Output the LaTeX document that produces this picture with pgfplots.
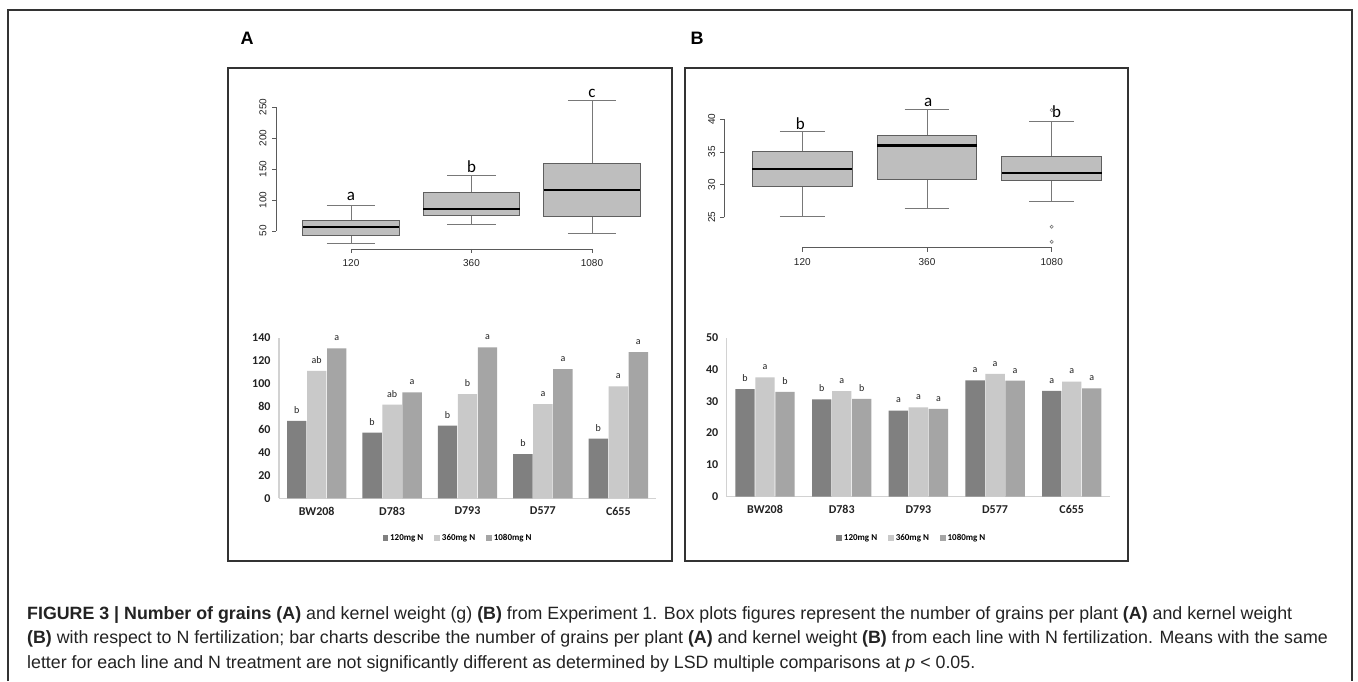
\documentclass[border=0pt]{standalone}
\usepackage{fontspec}
\setmainfont{Liberation Sans}
\newfontfamily\calib{Carlito}
\usepackage{pgfplots}
\usepackage{pgfplotstable}
\pgfplotsset{compat=1.18}
\usepgfplotslibrary{statistics}

\definecolor{bdark}{RGB}{128,128,128}
\definecolor{blight}{RGB}{201,201,201}
\definecolor{bmid}{RGB}{165,165,165}
\definecolor{boxfill}{RGB}{190,190,190}
\definecolor{boxedge}{RGB}{95,95,95}
\definecolor{whisk}{RGB}{120,120,120}
\definecolor{axgray}{RGB}{90,90,90}
\definecolor{axlight}{RGB}{210,210,210}
\definecolor{framec}{RGB}{51,51,51}
\definecolor{txt}{RGB}{35,35,35}

% bar chart A: number of grains
\pgfplotstableread{
x y l
0 67.4 b
1 57.2 b
2 63.3 b
3 38.6 b
4 52.0 b
}\Adark
\pgfplotstableread{
x y l
0 111.0 ab
1 81.6 ab
2 90.9 b
3 82.2 a
4 97.6 a
}\Alight
\pgfplotstableread{
x y l
0 130.7 a
1 92.4 a
2 131.6 a
3 112.7 a
4 127.5 a
}\Amid
% bar chart B: kernel weight
\pgfplotstableread{
x y l
0 33.8 b
1 30.6 b
2 27.1 a
3 36.6 a
4 33.3 a
}\Bdark
\pgfplotstableread{
x y l
0 37.5 a
1 33.2 a
2 28.1 a
3 38.6 a
4 36.2 a
}\Blight
\pgfplotstableread{
x y l
0 33.0 b
1 30.8 b
2 27.6 a
3 36.5 a
4 34.1 a
}\Bmid

\pgfplotsset{
  boxstyle/.style={
    scale only axis, anchor=south west, axis lines=none, clip=false,
    boxplot/draw direction=y,
    boxplot/every box/.style={fill=boxfill, draw=boxedge, line width=0.9pt},
    boxplot/every whisker/.style={draw=whisk, line width=0.9pt},
    boxplot/every median/.style={draw=black, line width=2.4pt},
  },
  barstyle/.style={
    scale only axis, anchor=south west, clip=false,
    xmin=-0.5, xmax=4.5, ymin=0,
    ybar=0.6pt, bar width=19.4pt,
    axis x line*=bottom, axis y line*=left,
    axis line style={draw=axlight, line width=1.2pt, -},
    major tick length=0pt,
    /pgf/number format/assume math mode=true,
    xtick={0,1,2,3,4}, xticklabels={BW208,D783,D793,D577,C655},
    ticklabel style={font=\calib\bfseries\fontsize{12}{12}\selectfont, text=txt},
    yticklabel style={xshift=-5pt},
    xticklabel style={yshift=-5pt},
    nodes near coords, point meta=explicit symbolic,
    every node near coord/.append style={font=\calib\fontsize{10}{10}\selectfont, text=txt, yshift=4pt},
    legend columns=3,
    legend style={draw=none, fill=none, anchor=center,
      font=\calib\bfseries\fontsize{9}{9}\selectfont,
      /tikz/every even column/.append style={column sep=9pt}},
    legend image code/.code={\draw[#1,draw=none] (0pt,-2.8pt) rectangle (5.6pt,2.8pt);},
  },
}

\begin{document}
\begin{tikzpicture}
\useasboundingbox (0pt,0pt) rectangle (1358pt,681pt);
\fill[white] (0pt,0pt) rectangle (1358pt,681pt);
% outer frame (open at the bottom)
\draw[framec, line width=1.3pt] (8pt,0pt) -- (8pt,671pt) -- (1352pt,671pt) -- (1352pt,0pt);
% panel frames
\draw[framec, line width=1.2pt] (228pt,120pt) rectangle (672pt,613pt);
\draw[framec, line width=1.2pt] (685pt,120pt) rectangle (1128pt,613pt);
\node[font=\bfseries\fontsize{18}{18}\selectfont] at (247pt,643pt) {A};
\node[font=\bfseries\fontsize{18}{18}\selectfont] at (697pt,643pt) {B};

% ---------- box plot A ----------
\begin{axis}[boxstyle, at={(290.75pt,431.4pt)}, width=361.5pt, height=155pt,
  xmin=0.5, xmax=3.5, ymin=20, ymax=270]
\addplot[boxplot prepared={draw position=1, lower whisker=30, lower quartile=43.5,
  median=56, upper quartile=67.7, upper whisker=91.5, box extend=0.8, whisker extend=0.4}]
  coordinates {};
\addplot[boxplot prepared={draw position=2, lower whisker=60, lower quartile=75.3,
  median=85.5, upper quartile=111.8, upper whisker=139.8, box extend=0.8, whisker extend=0.4}]
  coordinates {};
\addplot[boxplot prepared={draw position=3, lower whisker=46, lower quartile=73.7,
  median=116, upper quartile=159, upper whisker=260, box extend=0.8, whisker extend=0.4}]
  coordinates {};
\draw[axgray, line width=0.8pt] (axis cs:0.378,50) -- (axis cs:0.378,250);
\pgfplotsinvokeforeach{50,100,150,200,250}{
  \draw[axgray, line width=0.8pt] (axis cs:0.378,#1) -- ++(-4pt,0pt);
  \node[rotate=90, font=\fontsize{10}{10}\selectfont, text=txt] at ([xshift=-13pt]axis cs:0.378,#1) {#1};
}
\draw[axgray, line width=0.8pt] (axis cs:1,21) -- (axis cs:3,21);
\draw[axgray, line width=0.8pt] (axis cs:1,21) -- ++(0pt,-4pt);
\draw[axgray, line width=0.8pt] (axis cs:2,21) -- ++(0pt,-4pt);
\draw[axgray, line width=0.8pt] (axis cs:3,21) -- ++(0pt,-4pt);
\node[font=\fontsize{10}{10}\selectfont, text=txt] at ([yshift=-14pt]axis cs:1,21) {120};
\node[font=\fontsize{10}{10}\selectfont, text=txt] at ([yshift=-14pt]axis cs:2,21) {360};
\node[font=\fontsize{10}{10}\selectfont, text=txt] at ([yshift=-14pt]axis cs:3,21) {1080};
\node[font=\calib\fontsize{17}{17}\selectfont] at (axis cs:1,106.5) {a};
\node[font=\calib\fontsize{17}{17}\selectfont] at (axis cs:2,153.2) {b};
\node[font=\calib\fontsize{17}{17}\selectfont] at (axis cs:3,272.6) {c};
\end{axis}

% ---------- box plot B ----------
\begin{axis}[boxstyle, at={(739.95pt,418pt)}, width=374.1pt, height=169.8pt,
  xmin=0.5, xmax=3.5, ymin=18, ymax=44]
\addplot[boxplot prepared={draw position=1, lower whisker=25.1, lower quartile=29.7,
  median=32.35, upper quartile=35.05, upper whisker=38.1, box extend=0.8, whisker extend=0.36}]
  coordinates {};
\addplot[boxplot prepared={draw position=2, lower whisker=26.4, lower quartile=30.85,
  median=36.0, upper quartile=37.5, upper whisker=41.5, box extend=0.8, whisker extend=0.36}]
  coordinates {};
\addplot[boxplot prepared={draw position=3, lower whisker=27.4, lower quartile=30.65,
  median=31.8, upper quartile=34.3, upper whisker=39.6, box extend=0.8, whisker extend=0.36}]
  coordinates {};
\addplot[only marks, mark=o, mark size=1.6pt, draw=whisk, line width=0.6pt]
  coordinates {(3,41.4) (3,23.55) (3,21.25)};
\draw[axgray, line width=0.8pt] (axis cs:0.3745,25) -- (axis cs:0.3745,40);
\pgfplotsinvokeforeach{25,30,35,40}{
  \draw[axgray, line width=0.8pt] (axis cs:0.3745,#1) -- ++(-4pt,0pt);
  \node[rotate=90, font=\fontsize{10}{10}\selectfont, text=txt] at ([xshift=-12.6pt]axis cs:0.3745,#1) {#1};
}
\draw[axgray, line width=0.8pt] (axis cs:1,20.34) -- (axis cs:3,20.34);
\draw[axgray, line width=0.8pt] (axis cs:1,20.34) -- ++(0pt,-4pt);
\draw[axgray, line width=0.8pt] (axis cs:2,20.34) -- ++(0pt,-4pt);
\draw[axgray, line width=0.8pt] (axis cs:3,20.34) -- ++(0pt,-4pt);
\node[font=\fontsize{10}{10}\selectfont, text=txt] at ([yshift=-14pt]axis cs:1,20.34) {120};
\node[font=\fontsize{10}{10}\selectfont, text=txt] at ([yshift=-14pt]axis cs:2,20.34) {360};
\node[font=\fontsize{10}{10}\selectfont, text=txt] at ([yshift=-14pt]axis cs:3,20.34) {1080};
\node[font=\calib\fontsize{17}{17}\selectfont] at (axis cs:0.985,39.39) {b};
\node[font=\calib\fontsize{17}{17}\selectfont] at (axis cs:2.01,42.6) {a};
\node[font=\calib\fontsize{17}{17}\selectfont] at (axis cs:3.04,41.2) {b};
\end{axis}

% ---------- bar chart A ----------
\begin{axis}[barstyle, at={(279pt,182.7pt)}, width=377pt, height=160.6pt,
  ymax=140, ytick={0,20,...,140},
  legend style={at={(0.475,-0.247)}}]
\addplot[fill=bdark, draw=none] table[x=x, y=y, meta=l] {\Adark};
\addplot[fill=blight, draw=none] table[x=x, y=y, meta=l] {\Alight};
\addplot[fill=bmid, draw=none] table[x=x, y=y, meta=l] {\Amid};
\legend{120mg N, 360mg N, 1080mg N}
\end{axis}

% ---------- bar chart B ----------
\begin{axis}[barstyle, at={(726.7pt,184.3pt)}, width=383.4pt, height=159pt,
  ymax=50, ytick={0,10,...,50},
  legend style={at={(0.483,-0.26)}}]
\addplot[fill=bdark, draw=none] table[x=x, y=y, meta=l] {\Bdark};
\addplot[fill=blight, draw=none] table[x=x, y=y, meta=l] {\Blight};
\addplot[fill=bmid, draw=none] table[x=x, y=y, meta=l] {\Bmid};
\legend{120mg N, 360mg N, 1080mg N}
\end{axis}

% ---------- caption ----------
\begin{scope}[every node/.style={anchor=base west, inner sep=0pt, text=txt, font=\fontsize{17.8}{20}\selectfont}]
\node at (27pt,62pt) {\textbf{FIGURE 3 | Number of grains (A)} and kernel weight (g) \textbf{(B)} from Experiment 1. Box plots figures represent the number of grains per plant \textbf{(A)} and kernel weight};
\node at (27pt,37.5pt) {\textbf{(B)} with respect to N fertilization; bar charts describe the number of grains per plant \textbf{(A)} and kernel weight \textbf{(B)} from each line with N fertilization. Means with the same};
\node at (27pt,13pt) {letter for each line and N treatment are not significantly different as determined by LSD multiple comparisons at \textit{p} < 0.05.};
\end{scope}
\end{tikzpicture}
\end{document}
